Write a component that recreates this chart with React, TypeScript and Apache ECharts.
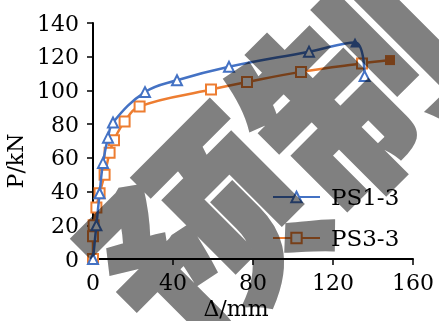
import React, { useEffect, useRef } from "react";
import * as echarts from "echarts";

const ps13X = [0, 1.7, 3.3, 5, 7.5, 10, 26, 42, 68, 108, 131, 135.8];
const ps13Y = [0, 20, 39, 57, 72, 81, 99, 106, 114, 123, 128.5, 108.5];
const ps33X = [0, 0, 0.3, 1.7, 3.3, 5.8, 8.3, 10.5, 15.8, 23.3, 59, 77, 104, 134.5, 148.5];
const ps33Y = [0, 13.5, 20, 30.5, 39, 50, 63, 70.5, 81.5, 90.5, 100.5, 105, 111, 116, 118];
const seriesNames = ["PS1-3", "PS3-3"];
const xTicks = [0, 40, 80, 120, 160];
const yTicks = [0, 20, 40, 60, 80, 100, 120, 140];
const watermarkText = "预制";

const FONT = "DejaVu Serif";

export default function App() {
  const ref = useRef<HTMLDivElement>(null);
  const wmRef = useRef<HTMLDivElement>(null);
  useEffect(() => {
    if (!ref.current || !wmRef.current) return;
    const chart = echarts.init(ref.current, null, { renderer: "svg" });
    const wm = echarts.init(wmRef.current, null, { renderer: "svg" });
    const blue = "#4472C4";
    const orange = "#ED7D31";
    const d1 = ps13X.map((x, i) =>
      i === ps13X.length - 2
        ? { value: [x, ps13Y[i]], symbol: "triangle", itemStyle: { color: blue } }
        : { value: [x, ps13Y[i]] }
    );
    const d2 = ps33X.map((x, i) =>
      i === ps33X.length - 1
        ? { value: [x, ps33Y[i]], symbol: "rect", itemStyle: { color: orange } }
        : { value: [x, ps33Y[i]] }
    );
    chart.setOption({
      animation: false,
      backgroundColor: "#fff",
      textStyle: { fontFamily: FONT },
      grid: { left: 93, right: 26, top: 23, bottom: 62, outerBoundsMode: "none" },
      xAxis: {
        type: "value",
        min: xTicks[0],
        max: xTicks[xTicks.length - 1],
        interval: xTicks[1] - xTicks[0],
        name: "Δ/mm",
        nameLocation: "middle",
        nameGap: 33,
        nameTextStyle: { fontSize: 22, color: "#000", fontFamily: FONT, padding: [0, 34, 0, 0] },
        axisLine: { lineStyle: { color: "#000", width: 2 } },
        axisTick: { show: true, inside: false, length: 6, lineStyle: { color: "#000", width: 1.5 } },
        axisLabel: { fontSize: 22, color: "#000", fontFamily: FONT, margin: 12 },
        splitLine: { show: false },
      },
      yAxis: {
        type: "value",
        min: yTicks[0],
        max: yTicks[yTicks.length - 1],
        interval: yTicks[1] - yTicks[0],
        name: "P/kN",
        nameLocation: "middle",
        nameRotate: 90,
        nameGap: 64,
        nameTextStyle: { fontSize: 22, color: "#000", fontFamily: FONT, padding: [0, 40, 0, 0] },
        axisLine: { show: true, lineStyle: { color: "#000", width: 2 } },
        axisTick: { show: true, inside: false, length: 6, lineStyle: { color: "#000", width: 1.5 } },
        axisLabel: { fontSize: 22, color: "#000", fontFamily: FONT, margin: 14 },
        splitLine: { show: false },
      },
      legend: {
        orient: "vertical",
        left: 267,
        top: 180,
        itemWidth: 47,
        itemHeight: 13,
        itemGap: 17,
        textStyle: { fontSize: 23, color: "#000", fontFamily: FONT, lineHeight: 24, padding: [0, 0, 0, 6] },
        data: seriesNames,
      },
      series: [
        {
          name: seriesNames[0],
          type: "line",
          data: d1,
          smooth: 0.4,
          symbol: "emptyTriangle",
          symbolSize: 10,
          color: blue,
          lineStyle: { color: blue, width: 2.5 },
          itemStyle: { color: blue, borderWidth: 1.5 },
          z: 3,
        },
        {
          name: seriesNames[1],
          type: "line",
          data: d2,
          smooth: 0.4,
          symbol: "emptyRect",
          symbolSize: 10,
          color: orange,
          lineStyle: { color: orange, width: 2.5 },
          itemStyle: { color: orange, borderWidth: 1.5 },
          z: 2,
        },
      ],
    });
    wm.setOption({
      animation: false,
      backgroundColor: "transparent",
      graphic: [
        {
          type: "text",
          x: 270,
          y: 153,
          rotation: Math.PI / 4,
          silent: true,
          style: {
            text: watermarkText,
            fontSize: 210,
            fontWeight: 900,
            fontFamily: "Noto Sans CJK SC",
            fill: "#808080",
            stroke: "#808080",
            lineWidth: 3,
            align: "center",
            verticalAlign: "middle",
          },
        },
      ],
    });
    return () => {
      chart.dispose();
      wm.dispose();
    };
  }, []);
  return (
    <>
      <div
        ref={ref}
        style={{ position: "fixed", left: 0, top: 0, width: 439, height: 321 }}
      />
      <div
        ref={wmRef}
        style={{
          position: "fixed",
          left: 0,
          top: 0,
          width: 439,
          height: 321,
          pointerEvents: "none",
          mixBlendMode: "multiply",
        }}
      />
    </>
  );
}
